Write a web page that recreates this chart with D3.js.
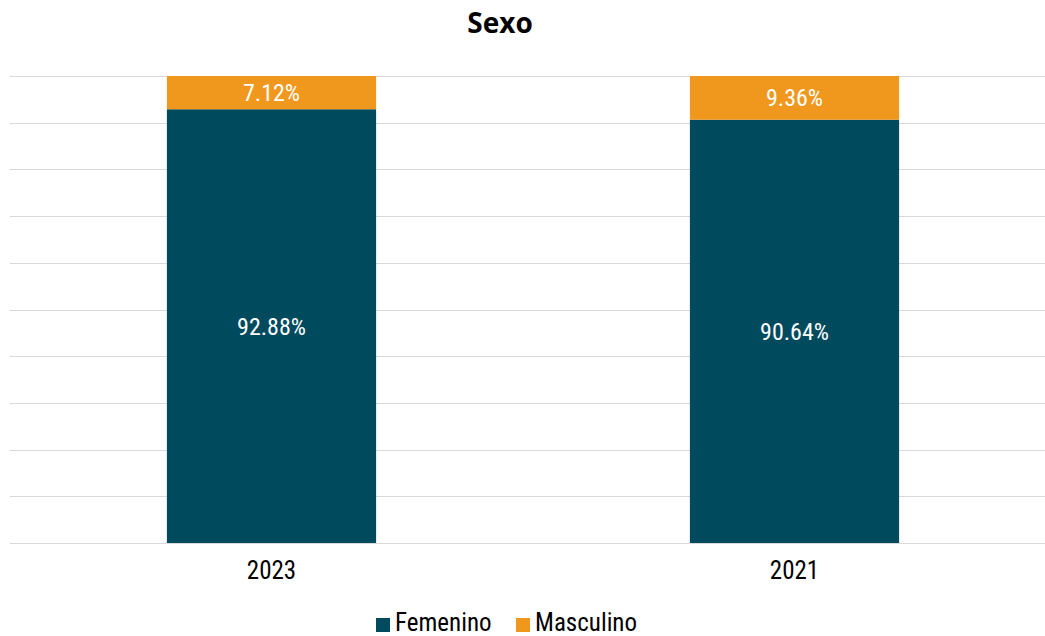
<!DOCTYPE html>
<html><head><meta charset="utf-8">
<script src="https://cdn.jsdelivr.net/npm/d3@7"></script>
<style>
body{margin:0;background:#fff;}
text{font-family:"Liberation Sans Narrow","Roboto Condensed","Arial Narrow",sans-serif;}
</style></head>
<body><svg id="c" width="1045" height="636"></svg>
<script>
const categories = ["2023", "2021"];
const femenino = [92.88, 90.64];
const masculino = [7.12, 9.36];
const seriesNames = ["Femenino", "Masculino"];
const colors = ["#004A5E", "#F0981E"];
const yTicks = [0,10,20,30,40,50,60,70,80,90,100];

(function(){
const svg = d3.select("#c");
const plotTop = 76, plotBottom = 543, plotLeft = 10, plotRight = 1045;
const x = d3.scaleBand().domain(categories).range([10, 1056]).paddingInner(0.6).paddingOuter(0.3);
const y = d3.scaleLinear().domain([0, 100]).range([plotBottom, plotTop]);

svg.append("text").attr("x", 500).attr("y", 33).attr("text-anchor", "middle")
  .style("font-family", "'Open Sans',sans-serif").style("font-weight", "bold").style("font-size", "28px").text("Sexo");

svg.append("g").selectAll("line").data(yTicks).join("line")
  .attr("x1", plotLeft).attr("x2", plotRight).attr("y1", d => Math.round(y(d)) + 0.5).attr("y2", d => Math.round(y(d)) + 0.5)
  .attr("stroke", "#d9d9d9").attr("stroke-width", 1);

const data = categories.map((c, i) => ({cat: c, Femenino: femenino[i], Masculino: masculino[i]}));
const stack = d3.stack().keys(seriesNames)(data);

stack.forEach((layer, li) => {
  const g = svg.append("g");
  g.selectAll("rect").data(layer).join("rect")
    .attr("x", d => x(d.data.cat)).attr("width", x.bandwidth())
    .attr("y", d => y(d[1])).attr("height", d => y(d[0]) - y(d[1]))
    .attr("fill", colors[li]);
  g.selectAll("text").data(layer).join("text")
    .attr("x", d => x(d.data.cat) + x.bandwidth() / 2)
    .attr("y", d => (y(d[0]) + y(d[1])) / 2)
    .attr("dy", "0.35em").attr("text-anchor", "middle")
    .attr("fill", "#fff").style("font-size", "24px")
    .text(d => (d[1] - d[0]).toFixed(2) + "%");
});

const xAxis = svg.append("g").attr("transform", `translate(0,${plotBottom})`)
  .call(d3.axisBottom(x).tickSize(0).tickPadding(18));
xAxis.select(".domain").remove();
xAxis.selectAll("text").style("font-size", "25px").attr("fill", "#000")
  .style("font-family", "'Liberation Sans Narrow','Roboto Condensed',sans-serif");

const legend = svg.append("g");
const legX = [376, 516];
seriesNames.forEach((s, i) => {
  legend.append("rect").attr("x", legX[i]).attr("y", 618).attr("width", 14).attr("height", 14).attr("fill", colors[i]);
  legend.append("text").attr("x", legX[i] + 19).attr("y", 631).style("font-size", "25px").attr("fill", "#000").text(s);
});
})();
</script></body></html>
